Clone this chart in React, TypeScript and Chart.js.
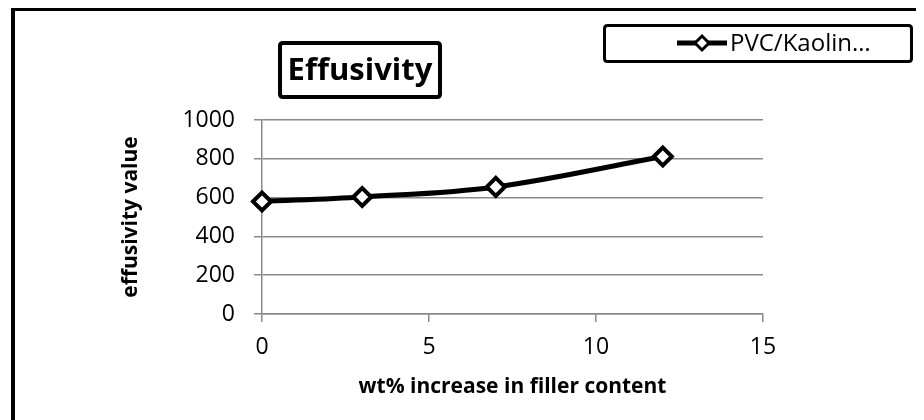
import { useEffect, useRef } from "react";
import { Chart, registerables } from "chart.js";

Chart.register(...registerables);

// Series data
const fillerContent = [0, 3, 7, 12];
const effusivityValues = [580, 603, 655, 812];

// Text
const seriesLabel = "PVC/Kaolin…";
const chartTitle = "Effusivity";
const xAxisTitle = "wt% increase in filler content";
const yAxisTitle = "effusivity value";

const FONT = "'Open Sans', Lato, sans-serif";
const GRID = "#8a8a8a";

function roundRectPath(ctx: CanvasRenderingContext2D, x: number, y: number, w: number, h: number, r: number) {
  ctx.beginPath();
  ctx.moveTo(x + r, y);
  ctx.lineTo(x + w - r, y);
  ctx.quadraticCurveTo(x + w, y, x + w, y + r);
  ctx.lineTo(x + w, y + h - r);
  ctx.quadraticCurveTo(x + w, y + h, x + w - r, y + h);
  ctx.lineTo(x + r, y + h);
  ctx.quadraticCurveTo(x, y + h, x, y + h - r);
  ctx.lineTo(x, y + r);
  ctx.quadraticCurveTo(x, y, x + r, y);
  ctx.closePath();
}

// Boxed title and boxed legend drawn on top of the chart
const boxesPlugin = {
  id: "boxes",
  afterDraw(chart: any) {
    const ctx: CanvasRenderingContext2D = chart.ctx;
    ctx.save();

    // Title box
    ctx.lineWidth = 4;
    ctx.strokeStyle = "#000";
    ctx.fillStyle = "#fff";
    roundRectPath(ctx, 272, 35, 160, 54, 3);
    ctx.fill();
    ctx.stroke();
    ctx.fillStyle = "#000";
    ctx.font = `bold 31px ${FONT}`;
    ctx.textAlign = "center";
    ctx.textBaseline = "middle";
    ctx.fillText(chartTitle, 352, 63);

    // Legend box
    const ds = chart.data.datasets[0];
    ctx.lineWidth = 3;
    ctx.fillStyle = "#fff";
    roundRectPath(ctx, 596.5, 17.5, 307, 36, 3);
    ctx.fill();
    ctx.stroke();

    const cy = 35;
    ctx.strokeStyle = ds.borderColor;
    ctx.lineWidth = 5;
    ctx.beginPath();
    ctx.moveTo(669, cy);
    ctx.lineTo(719, cy);
    ctx.stroke();

    const r = 7;
    const cx = 694;
    ctx.lineWidth = 3;
    ctx.fillStyle = ds.pointBackgroundColor;
    ctx.beginPath();
    ctx.moveTo(cx - r, cy);
    ctx.lineTo(cx, cy - r);
    ctx.lineTo(cx + r, cy);
    ctx.lineTo(cx, cy + r);
    ctx.closePath();
    ctx.fill();
    ctx.stroke();

    ctx.fillStyle = "#000";
    ctx.font = `24px ${FONT}`;
    ctx.textAlign = "left";
    ctx.textBaseline = "middle";
    ctx.fillText(ds.label, 722, cy + 1);

    ctx.restore();
  },
};

export default function App() {
  const canvasRef = useRef<HTMLCanvasElement | null>(null);

  useEffect(() => {
    if (!canvasRef.current) return;
    const points = fillerContent.map((x, i) => ({ x, y: effusivityValues[i] }));

    const chart = new Chart(canvasRef.current, {
      type: "line",
      data: {
        datasets: [
          {
            label: seriesLabel,
            data: points,
            borderColor: "#000",
            borderWidth: 5,
            tension: 0.35,
            pointStyle: "rectRot",
            pointRadius: 9,
            pointBorderWidth: 4,
            pointBackgroundColor: "#fff",
            pointBorderColor: "#000",
            fill: false,
            clip: false,
          },
        ],
      },
      options: {
        responsive: false,
        animation: false,
        layout: { padding: { left: 0, top: 112, right: 161, bottom: 0 } },
        plugins: {
          legend: { display: false },
          title: { display: false },
          tooltip: { enabled: false },
        },
        scales: {
          x: {
            type: "linear",
            min: 0,
            max: 15,
            ticks: {
              stepSize: 5,
              color: "#000",
              padding: 12,
              font: { family: FONT, size: 23 },
              callback: (v: any) => String(v),
            },
            grid: { drawOnChartArea: false, drawTicks: true, tickLength: 8, color: GRID, lineWidth: 1.5 },
            border: { display: true, color: GRID, width: 1.5 },
            title: {
              display: true,
              text: xAxisTitle,
              color: "#000",
              font: { family: FONT, size: 21, weight: "bold" },
              padding: { top: 0, bottom: 20 },
            },
            afterFit: (s: any) => {
              s.height = 106;
            },
          },
          y: {
            min: 0,
            max: 1000,
            ticks: {
              stepSize: 200,
              color: "#000",
              padding: 19,
              font: { family: FONT, size: 23 },
              callback: (v: any) => String(v),
            },
            grid: { color: GRID, lineWidth: 1.5, tickLength: 8 },
            border: { display: true, color: GRID, width: 1.5 },
            title: {
              display: true,
              text: yAxisTitle,
              color: "#000",
              font: { family: FONT, size: 21, weight: "bold" },
              padding: { top: 110, bottom: 0 },
            },
            afterFit: (s: any) => {
              s.width = 254;
            },
          },
        },
      },
      plugins: [boxesPlugin],
    } as any);

    return () => chart.destroy();
  }, []);

  return (
    <div style={{ position: "relative", width: 916, height: 412, overflow: "hidden" }}>
      <div
        style={{
          position: "absolute",
          left: 3,
          top: 0,
          width: 1000,
          height: 1000,
          borderLeft: "4px solid #000",
          borderTop: "3px solid #000",
        }}
      />
      <canvas ref={canvasRef} width={916} height={412} style={{ position: "absolute", left: 0, top: 0 }} />
    </div>
  );
}
